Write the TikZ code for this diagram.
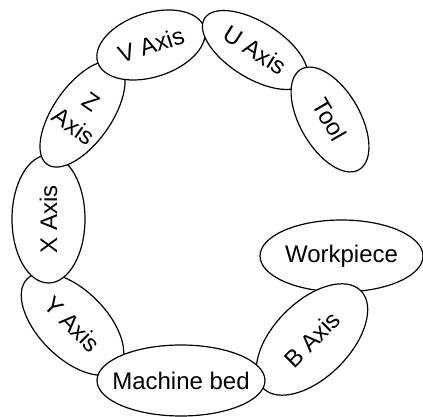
\documentclass[tikz,border=0pt]{standalone}
\usepackage{fontspec}
\setmainfont{Liberation Sans}
\usetikzlibrary{shapes.geometric}
% zero-width label box, so that only the minimum sizes set the ellipse
\newcommand{\lbl}[1]{\makebox[0pt]{#1}}
\begin{document}
\begin{tikzpicture}[x=1pt,y=1pt,
  part/.style={ellipse,draw=black,fill=white,line width=1.2pt,inner sep=0pt,
    font=\fontsize{24}{30}\selectfont,align=center}]
\useasboundingbox (0,0) rectangle (423,417);
% ring of machine components, each one drawn over its neighbour
\node[part,minimum width=163,minimum height=72] (work) at (341.5,161) {\lbl{Workpiece}};
\node[part,rotate=45,minimum width=138,minimum height=76] (b) at (312,77.5) {\lbl{B Axis}};
\node[part,rotate=-45,minimum width=128,minimum height=68] (y) at (72.5,93) {\lbl{Y Axis}};
\node[part,minimum width=168,minimum height=71] (bed) at (181,36.5) {\lbl{Machine bed}};
\node[part,rotate=90,minimum width=128,minimum height=73] (x) at (48.5,198) {\lbl{X Axis}};
\node[part,rotate=-35,minimum width=58,minimum height=123] (z) at (82.5,303) {\lbl{Z}\\\lbl{Axis}};
\node[part,rotate=18,minimum width=112,minimum height=64] (v) at (151,372) {\lbl{V Axis}};
\node[part,rotate=-32,minimum width=119,minimum height=56] (u) at (255,367) {\lbl{U Axis}};
\node[part,rotate=-60,minimum width=116,minimum height=60] (tool) at (330,297.5) {\lbl{Tool}};
\end{tikzpicture}
\end{document}
